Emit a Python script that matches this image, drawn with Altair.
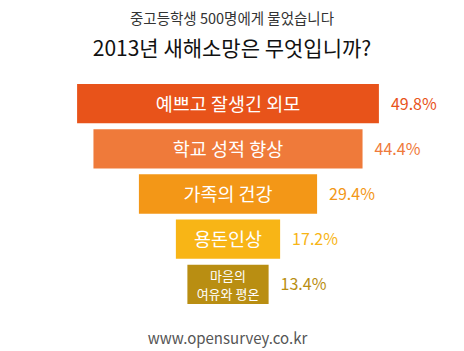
import altair as alt
import pandas as pd

categories = ["예쁘고 잘생긴 외모", "학교 성적 향상", "가족의 건강", "용돈인상", "마음의\n여유와 평온"]
values = [49.8, 44.4, 29.4, 17.2, 13.4]
pct_labels = ["49.8%", "44.4%", "29.4%", "17.2%", "13.4%"]
colors = ["#E8531A", "#EF7A3A", "#F39717", "#F8B516", "#B98E12"]
two_line = [False, False, False, False, True]

df = pd.DataFrame({
    "cat": categories,
    "v": values,
    "pct": pct_labels,
    "color": colors,
    "two": two_line,
})

F = "Noto Sans CJK KR"
xscale = alt.Scale(domain=[-37.62, 38.94], nice=False, zero=False)
yenc = alt.Y("cat:N", sort=categories,
             scale=alt.Scale(paddingInner=0.13, paddingOuter=0),
             axis=None)

base = alt.Chart(df).transform_calculate(
    lo="-datum.v/2", hi="datum.v/2"
)

bars = base.mark_bar().encode(
    x=alt.X("lo:Q", scale=xscale,
            axis=alt.Axis(title="www.opensurvey.co.kr", labels=False, ticks=False,
                          domain=False, grid=False, titleFont=F, titleFontSize=15,
                          titleFontWeight="normal", titleColor="#555555",
                          titleX=227, titlePadding=27)),
    x2="hi:Q",
    y=yenc,
    color=alt.Color("color:N", scale=None),
)

inner1 = base.transform_filter("!datum.two").mark_text(
    font=F, fontSize=18.5, color="white", baseline="middle", align="center", dy=1
).encode(
    x=alt.datum(0),
    y=yenc,
    text="cat:N",
)

inner2 = base.transform_filter("datum.two").mark_text(
    font=F, fontSize=13, color="white", lineBreak="\n", lineHeight=17.5,
    baseline="middle", align="center", dy=-7
).encode(
    x=alt.datum(0),
    y=yenc,
    text="cat:N",
)

pct = base.mark_text(font=F, fontSize=16, align="left", baseline="middle", dx=12, dy=1).encode(
    x=alt.X("hi:Q", scale=xscale),
    y=yenc,
    text="pct:N",
    color=alt.Color("color:N", scale=None),
)

chart = alt.layer(bars, inner1, inner2, pct).properties(
    width=464, height=220,
    background="white",
    title=alt.Title(
        text="중고등학생 500명에게 물었습니다",
        subtitle="2013년 새해소망은 무엇입니까?",
        font=F, fontSize=14.5, fontWeight="normal", color="#333333",
        subtitleFont=F, subtitleFontSize=21, subtitleColor="#111111",
        subtitleFontWeight="normal",
        anchor="middle", offset=23, subtitlePadding=12,
    ),
    autosize=alt.AutoSizeParams(type="none"),
    padding={"top": 84, "bottom": 47, "left": 0, "right": 0},
).configure_view(strokeWidth=0, stroke="transparent")

chart.save("out.html", embed_options={"renderer": "svg", "actions": False})
